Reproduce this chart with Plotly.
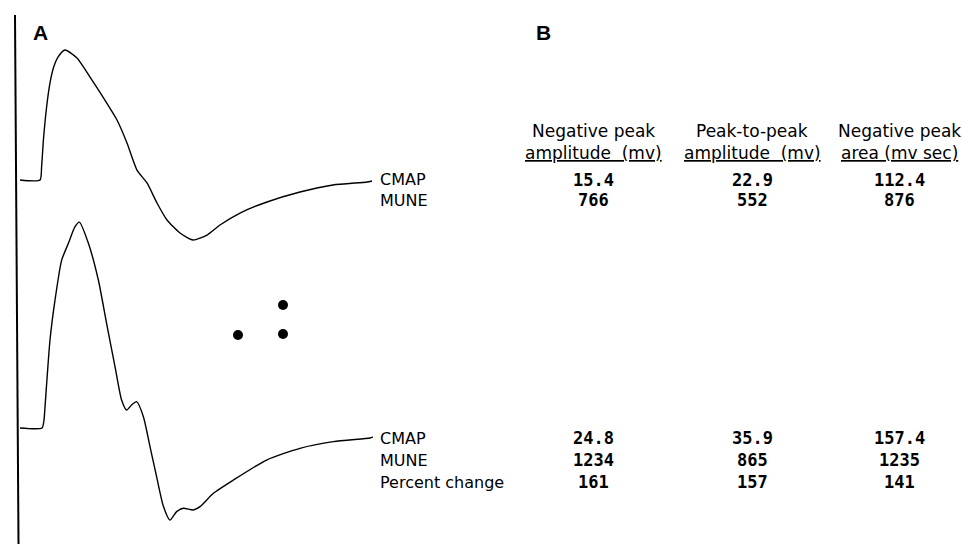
import plotly.graph_objects as go

# ---------------- data ----------------
# Top waveform (before): time in ms, amplitude in mV (negative peak drawn upward)
t_pre = [0, 1.0, 1.08, 1.17, 1.33, 1.5, 1.67, 1.9, 2.25, 2.85, 3.5, 4.15, 4.85, 5.35,
         5.85, 6.35, 6.85, 7.35, 8.0, 8.65, 9.35, 10.0, 11.0, 12.35, 14.0, 15.65, 17.35, 17.6]
v_pre = [0, 0, 1.6, 4.8, 8.8, 11.7, 13.5, 14.8, 15.66, 14.7, 12.4, 10.0, 7.23, 4.46,
         1.2, -0.36, -2.77, -4.82, -6.39, -7.23, -6.63, -5.42, -3.98, -2.65, -1.45, -0.6, -0.24, -0.12]

# Bottom waveform (after)
t_post = [0, 1.1, 1.2, 1.25, 1.5, 1.75, 2.08, 2.42, 2.75, 2.97, 3.42, 3.92, 4.33, 4.75,
          5.08, 5.33, 5.58, 5.83, 6.17, 6.5, 6.83, 7.17, 7.5, 7.83, 8.17, 8.67, 9.0, 9.67,
          10.67, 12.33, 14.0, 15.67, 17.5, 17.65]
v_post = [0, 0, 0.96, 2.53, 10.6, 15.4, 20.2, 22.25, 24.25, 24.8, 22.25, 17.8, 12.6, 7.4,
          3.37, 2.17, 2.77, 3.17, 1.36, -2.25, -5.87, -9.44, -11.1, -10.08, -9.68, -9.88, -9.48, -7.87,
          -6.27, -3.86, -2.45, -1.65, -1.2, -1.1]

# Table
header_line1 = ["Negative peak", "Peak-to-peak", "Negative peak"]
header_line2 = ["amplitude\u00a0 (mv)", "amplitude\u00a0 (mv)", "area (mv sec)"]
pre_labels = ["CMAP", "MUNE"]
pre_values = [["15.4", "22.9", "112.4"],
              ["766", "552", "876"]]
post_labels = ["CMAP", "MUNE", "Percent change"]
post_values = [["24.8", "35.9", "157.4"],
               ["1234", "865", "1235"],
               ["161", "157", "141"]]
panel_labels = ["A", "B"]

# ---------------- layout helpers (pixel -> paper) ----------------
W, H = 963, 544
def px(x):
    return x / W
def py(y):
    return 1 - y / H

fig = go.Figure()
fig.add_trace(go.Scatter(x=t_pre, y=v_pre, mode="lines", yaxis="y",
                         line=dict(color="black", width=1.4, shape="spline", smoothing=0.6),
                         hoverinfo="skip", showlegend=False))
fig.add_trace(go.Scatter(x=t_post, y=v_post, mode="lines", yaxis="y2",
                         line=dict(color="black", width=1.4, shape="spline", smoothing=0.6),
                         hoverinfo="skip", showlegend=False))

annotations = []
text_font = dict(family="DejaVu Sans", size=16, color="black")
head_font = dict(family="DejaVu Sans", size=17, color="black")
num_font = dict(family="DejaVu Sans Mono", size=17, color="black")

def ann(x, y, text, font, xanchor="center"):
    annotations.append(dict(x=px(x), y=py(y), xref="paper", yref="paper", text=text,
                            showarrow=False, font=font, xanchor=xanchor, yanchor="middle"))

ann(31, 32, "<b>" + panel_labels[0] + "</b>", dict(family="Liberation Sans", size=21, color="black"), "left")
ann(534, 32, "<b>" + panel_labels[1] + "</b>", dict(family="Liberation Sans", size=21, color="black"), "left")

col_x = [593, 752, 899]
for cx, h1, h2 in zip(col_x, header_line1, header_line2):
    ann(cx, 131, h1, head_font)
    ann(cx, 153, "<u>" + h2 + "</u>", head_font)

pre_y = [180, 200]
for yy, lab, vals in zip(pre_y, pre_labels, pre_values):
    ann(378, yy, lab, text_font, "left")
    for cx, v in zip(col_x, vals):
        ann(cx, yy, "<b>" + v + "</b>", num_font)

post_y = [438, 460, 482]
for yy, lab, vals in zip(post_y, post_labels, post_values):
    ann(378, yy, lab, text_font, "left")
    for cx, v in zip(col_x, vals):
        ann(cx, yy, "<b>" + v + "</b>", num_font)

shapes = []
# vertical calibration line
shapes.append(dict(type="line", xref="paper", yref="paper", x0=px(15), y0=py(15), x1=px(18.5), y1=py(544),
                   line=dict(color="black", width=2)))
# continuation dots
for cxp, cyp in [(238, 335), (283, 305), (283, 334)]:
    shapes.append(dict(type="circle", xref="paper", yref="paper",
                       x0=px(cxp - 5), x1=px(cxp + 5), y0=py(cyp + 5), y1=py(cyp - 5),
                       fillcolor="black", line=dict(color="black", width=0)))

fig.update_layout(
    width=W, height=H,
    margin=dict(l=0, r=0, t=0, b=0),
    paper_bgcolor="white", plot_bgcolor="white",
    xaxis=dict(range=[-1, 47.15], visible=False, showgrid=False, zeroline=False),
    yaxis=dict(range=[-43.86, 21.69], visible=False, showgrid=False, zeroline=False),
    yaxis2=dict(range=[-13.98, 51.57], visible=False, showgrid=False, zeroline=False,
                overlaying="y"),
    annotations=annotations,
    shapes=shapes,
    showlegend=False,
)

fig.write_html("out.html",
               config={"displayModeBar": False, "staticPlot": True},
               post_script="document.body.style.margin='0';document.body.style.overflow='hidden';")
